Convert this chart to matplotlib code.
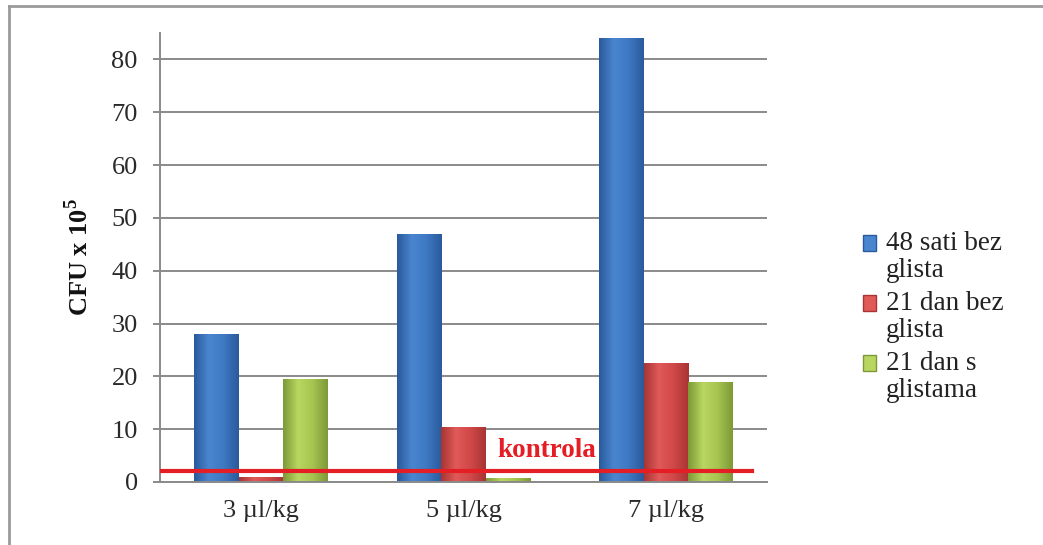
import numpy as np
import matplotlib
matplotlib.use("Agg")
import matplotlib.pyplot as plt
from matplotlib.colors import LinearSegmentedColormap
from matplotlib.patches import Rectangle
from matplotlib.lines import Line2D
from matplotlib.legend_handler import HandlerPatch

# CFU counts (x 10^5) per dose
doses = ["3 µl/kg", "5 µl/kg", "7 µl/kg"]
series_names = ["48 sati bez\nglista", "21 dan bez\nglista", "21 dan s\nglistama"]
sati48_bez = [28, 47, 84]
dan21_bez = [1.0, 10.5, 22.5]
dan21_s = [19.5, 0.8, 19]
kontrola = 2.0

# dark edge -> light -> dark edge shading for each series
shades = [
    ["#2A5A9C", "#4A86D0", "#3E78C2", "#2A5A9C"],
    ["#A83535", "#E05A58", "#D04848", "#A83535"],
    ["#7D9A38", "#B8D660", "#A6C450", "#7D9A38"],
]


class FirstLineSquare(HandlerPatch):
    """Legend square sitting on the first line of a two-line label."""

    def create_artists(self, legend, orig_handle, xdescent, ydescent,
                       width, height, fontsize, trans):
        p = Rectangle((-xdescent, -ydescent + 0.52 * fontsize), width, height,
                      facecolor=orig_handle.get_facecolor(),
                      edgecolor=orig_handle.get_edgecolor(), linewidth=1)
        p.set_transform(trans)
        return [p]


plt.rcParams["font.family"] = ["Liberation Serif", "DejaVu Serif"]
plt.rcParams["mathtext.fontset"] = "custom"
plt.rcParams["mathtext.rm"] = "Liberation Serif"
plt.rcParams["mathtext.bf"] = "Liberation Serif:bold"

fig = plt.figure(figsize=(10.43, 5.45), dpi=100)
ax = fig.add_axes([160 / 1043, 1 - 482 / 545, 607 / 1043, 449 / 545])

x = np.arange(len(doses))
width = 0.22
grad = np.linspace(0, 1, 64).reshape(1, -1)

for i, vals in enumerate([sati48_bez, dan21_bez, dan21_s]):
    cmap = LinearSegmentedColormap.from_list(f"s{i}", shades[i])
    xs = x + (i - 1) * width
    bars = ax.bar(xs, vals, width, color=shades[i][2], edgecolor="none", zorder=2)
    for b in bars:
        x0, w, h = b.get_x(), b.get_width(), b.get_height()
        im = ax.imshow(grad, cmap=cmap, aspect="auto", extent=[x0, x0 + w, 0, h],
                       zorder=2.1, interpolation="bicubic")
        im.set_clip_path(b)

ax.set_xlim(-0.5, 2.5)
ax.set_ylim(0, 85)
ax.set_yticks(range(0, 81, 10))
ax.set_xticks(x)
ax.set_xticklabels(doses)

ax.grid(axis="y", color="#8A8A8A", linewidth=1.4, zorder=1)
ax.set_axisbelow(True)
for side in ["top", "right"]:
    ax.spines[side].set_visible(False)
for side in ["left", "bottom"]:
    ax.spines[side].set_color("#8A8A8A")
    ax.spines[side].set_linewidth(1.4)

ax.tick_params(axis="y", length=5, width=1.4, color="#8A8A8A", pad=11,
               labelsize=19, labelcolor="#2A2A2A")
ax.tick_params(axis="x", length=0, pad=13, labelsize=19, labelcolor="#2A2A2A")

ax.set_ylabel("CFU x 10$^{\\mathbf{5}}$", fontsize=19, fontweight="bold", color="#111111")
ax.yaxis.set_label_coords(-0.11, 0.5)

# control level
ax.axhline(kontrola, xmin=0, xmax=0.975, color="#E31E24", linewidth=3, zorder=4)
ax.text(1.165, 5.9, "kontrola", color="#E31E24", fontsize=19.5, fontweight="bold",
        va="center", ha="left", zorder=5)

handles = [Rectangle((0, 0), 1, 1, facecolor=shades[i][1], edgecolor=shades[i][0])
           for i in range(3)]
leg = fig.legend(handles, series_names, loc="center left", bbox_to_anchor=(0.804, 0.418),
                 frameon=False, fontsize=19.5, handlelength=0.5, handleheight=0.5,
                 handletextpad=0.35, labelspacing=0.3, labelcolor="#222222",
                 handler_map={Rectangle: FirstLineSquare()})
for t in leg.get_texts():
    t.set_linespacing(1.1)

# outer frame
fig.add_artist(Line2D([9 / 1043, 9 / 1043], [0, 1 - 6 / 545], transform=fig.transFigure,
                      color="#9A9A9A", linewidth=2))
fig.add_artist(Line2D([9 / 1043, 1], [1 - 6 / 545, 1 - 6 / 545], transform=fig.transFigure,
                      color="#9A9A9A", linewidth=2))

fig.savefig("out.png", dpi=100)
